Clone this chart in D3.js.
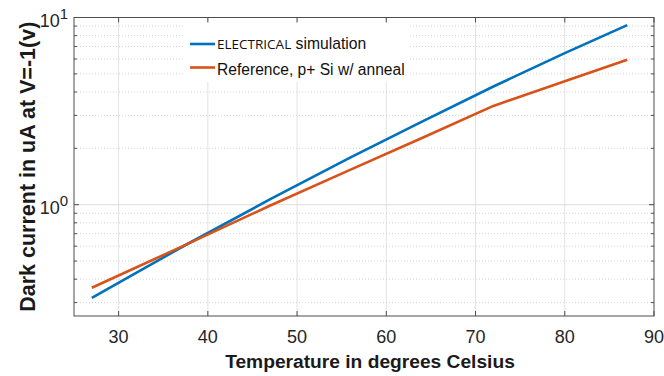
<!DOCTYPE html>
<html><head><meta charset="utf-8">
<script src="https://cdn.jsdelivr.net/npm/d3@7"></script>
<style>body{margin:0;background:#fff}svg{display:block}text{font-family:"Liberation Sans",Arial,sans-serif}</style>
</head><body><svg id="c" width="664" height="376"></svg>
<script>
const temps = [27, 37.5, 47, 56, 64, 72, 80, 87];
const simCurrent = [0.318, 0.609, 1.07, 1.79, 2.78, 4.28, 6.45, 9.1];
const refCurrent = [0.36, 0.61, 0.99, 1.54, 2.27, 3.37, 4.56, 5.94];
const xTicks = [30, 40, 50, 60, 70, 80, 90];
const yMajor = [1, 10];
const yMinor = [0.3,0.4,0.5,0.6,0.7,0.8,0.9,2,3,4,5,6,7,8,9];
const seriesNames = ["simulation", "Reference, p+ Si w/ anneal"];
const colors = ["#0072BD", "#D95319"];
const xLabel = "Temperature in degrees Celsius";
const yLabel = "Dark current in uA at V=-1(v)";

const L = 74, R = 654, T = 17.5, B = 316;
const svg = d3.select("#c");
const x = d3.scaleLinear().domain([25, 90]).range([L, R]);
const y = d3.scaleLog().domain([0.2543, 10]).range([B, T]);

const g = svg.append("g");
// grids
g.selectAll(".gx").data(xTicks.filter(d => d < 90)).join("line")
  .attr("x1", d => x(d)).attr("x2", d => x(d)).attr("y1", T).attr("y2", B)
  .attr("stroke", "#e3e3e3").attr("stroke-width", 1);
g.selectAll(".gym").data(yMinor).join("line")
  .attr("x1", L).attr("x2", R).attr("y1", d => y(d)).attr("y2", d => y(d))
  .attr("stroke", "#c8c8c8").attr("stroke-width", 0.8).attr("stroke-dasharray", "1,2");
g.selectAll(".gyM").data(yMajor.filter(d => d < 10)).join("line")
  .attr("x1", L).attr("x2", R).attr("y1", d => y(d)).attr("y2", d => y(d))
  .attr("stroke", "#dcdcdc").attr("stroke-width", 1);

// legend background
svg.append("rect").attr("x", 184).attr("y", 22).attr("width", 226).attr("height", 60).attr("fill", "#fff");

// lines
const line = d3.line().x((d, i) => x(temps[i])).y(d => y(d));
[simCurrent, refCurrent].forEach((s, k) => {
  svg.append("path").datum(s).attr("d", line).attr("fill", "none")
    .attr("stroke", colors[k]).attr("stroke-width", 2.6).attr("stroke-linejoin", "round");
});

// axes box and ticks
const ax = svg.append("g").attr("stroke", "#4d4d4d").attr("stroke-width", 1);
ax.append("rect").attr("x", L).attr("y", T).attr("width", R - L).attr("height", B - T).attr("fill", "none");
xTicks.forEach(d => {
  ax.append("line").attr("x1", x(d)).attr("x2", x(d)).attr("y1", B).attr("y2", B - 5);
  ax.append("line").attr("x1", x(d)).attr("x2", x(d)).attr("y1", T).attr("y2", T + 5);
});
yMajor.forEach(d => {
  ax.append("line").attr("x1", L).attr("x2", L + 5).attr("y1", y(d)).attr("y2", y(d));
  ax.append("line").attr("x1", R).attr("x2", R - 5).attr("y1", y(d)).attr("y2", y(d));
});
yMinor.forEach(d => {
  ax.append("line").attr("x1", L).attr("x2", L + 3).attr("y1", y(d)).attr("y2", y(d));
  ax.append("line").attr("x1", R).attr("x2", R - 3).attr("y1", y(d)).attr("y2", y(d));
});

// tick labels
svg.selectAll(".xt").data(xTicks).join("text")
  .attr("x", d => x(d)).attr("y", 343).attr("text-anchor", "middle")
  .attr("font-size", 18).attr("fill", "#262626").text(d => d);
yMajor.forEach(d => {
  const t = svg.append("text").attr("x", 68).attr("y", y(d) + 9.5).attr("text-anchor", "end")
    .attr("fill", "#262626").attr("font-size", 18);
  t.append("tspan").text("10");
  t.append("tspan").attr("dy", -8).attr("font-size", 15).text(Math.round(Math.log10(d)));
});

// axis labels
svg.append("text").attr("x", 370).attr("y", 368).attr("text-anchor", "middle")
  .attr("font-size", 19.2).attr("font-weight", "bold").attr("fill", "#1a1a1a").text(xLabel);
svg.append("text").attr("transform", `translate(35,${(T + B) / 2}) rotate(-90)`)
  .attr("text-anchor", "middle").attr("font-size", 21.5).attr("font-weight", "bold")
  .attr("fill", "#1a1a1a").text(yLabel);

// legend
const legY = [44, 67.5];
legY.forEach((ly, k) => {
  svg.append("line").attr("x1", 190).attr("x2", 215).attr("y1", ly).attr("y2", ly)
    .attr("stroke", colors[k]).attr("stroke-width", 2.6);
});
const t1 = svg.append("text").attr("x", 217).attr("y", 49).attr("fill", "#111");
t1.append("tspan").attr("font-size", 13.5).attr("font-family", "'Open Sans', sans-serif").text("ELECTRICAL");
t1.append("tspan").attr("font-size", 15.7).text(" " + seriesNames[0]);
svg.append("text").attr("x", 217).attr("y", 74.5).attr("fill", "#111").attr("font-size", 15.6).text(seriesNames[1]);
</script></body></html>
